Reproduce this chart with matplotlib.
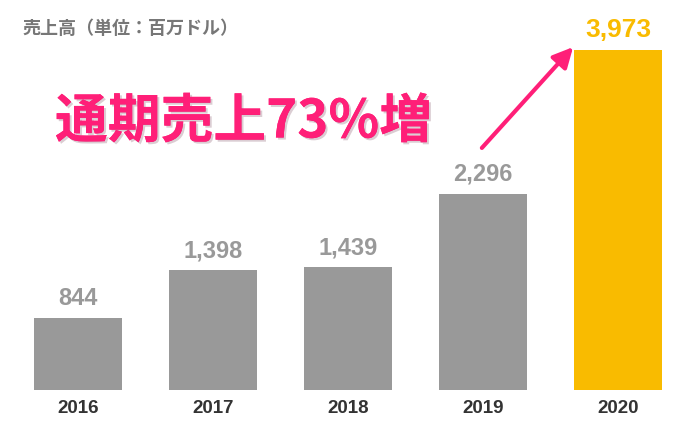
import matplotlib
matplotlib.use("Agg")
import matplotlib.pyplot as plt
import matplotlib.patheffects as pe

years = ["2016", "2017", "2018", "2019", "2020"]
sales = [844, 1398, 1439, 2296, 3973]
colors = ["#999999", "#999999", "#999999", "#999999", "#F9BB00"]

plt.rcParams['font.family'] = ['Noto Sans CJK JP', 'DejaVu Sans']
fig = plt.figure(figsize=(6.8, 4.28), dpi=100)
ax = fig.add_axes([0, 38/428, 1, 390/428])
step = 135.1
ax.set_xlim(-78/step, (680-78)/step)
ax.set_ylim(0, 3973*390/340)
x = list(range(len(years)))
ax.bar(x, sales, width=88/step, color=colors)
for xi, v, y in zip(x, sales, years):
    last = y == "2020"
    ax.text(xi, v + 90, f"{v:,}", ha="center", va="bottom",
            fontsize=19 if last else 17, fontweight="bold",
            color="#F9BB00" if last else "#999999", family="Liberation Sans")
    ax.text(xi, -120, y, ha="center", va="top", fontsize=13.5, fontweight="bold",
            color="#333333", family="Liberation Sans")
ax.axis("off")

fig.text(22/680, 1-28/428, "売上高（単位：百万ドル）", fontsize=13, fontweight="bold",
         color="#777777", va="center")
t = fig.text(55/680, 1-122/428, "通期売上73%増", fontsize=38, fontweight="bold",
             color="#FF1F78", va="center")
t.set_path_effects([pe.withStroke(linewidth=5, foreground="white"),
                    pe.SimplePatchShadow(offset=(1.5, -1.5), alpha=0.2), pe.Normal()])
ax.annotate("", xy=(575/680, 1-45/428), xytext=(480/680, 1-150/428),
            xycoords="figure fraction", textcoords="figure fraction",
            arrowprops=dict(arrowstyle="-|>,head_length=1.2,head_width=0.6",
                            color="#FF1F78", lw=3))
fig.savefig("out.png", dpi=100)
